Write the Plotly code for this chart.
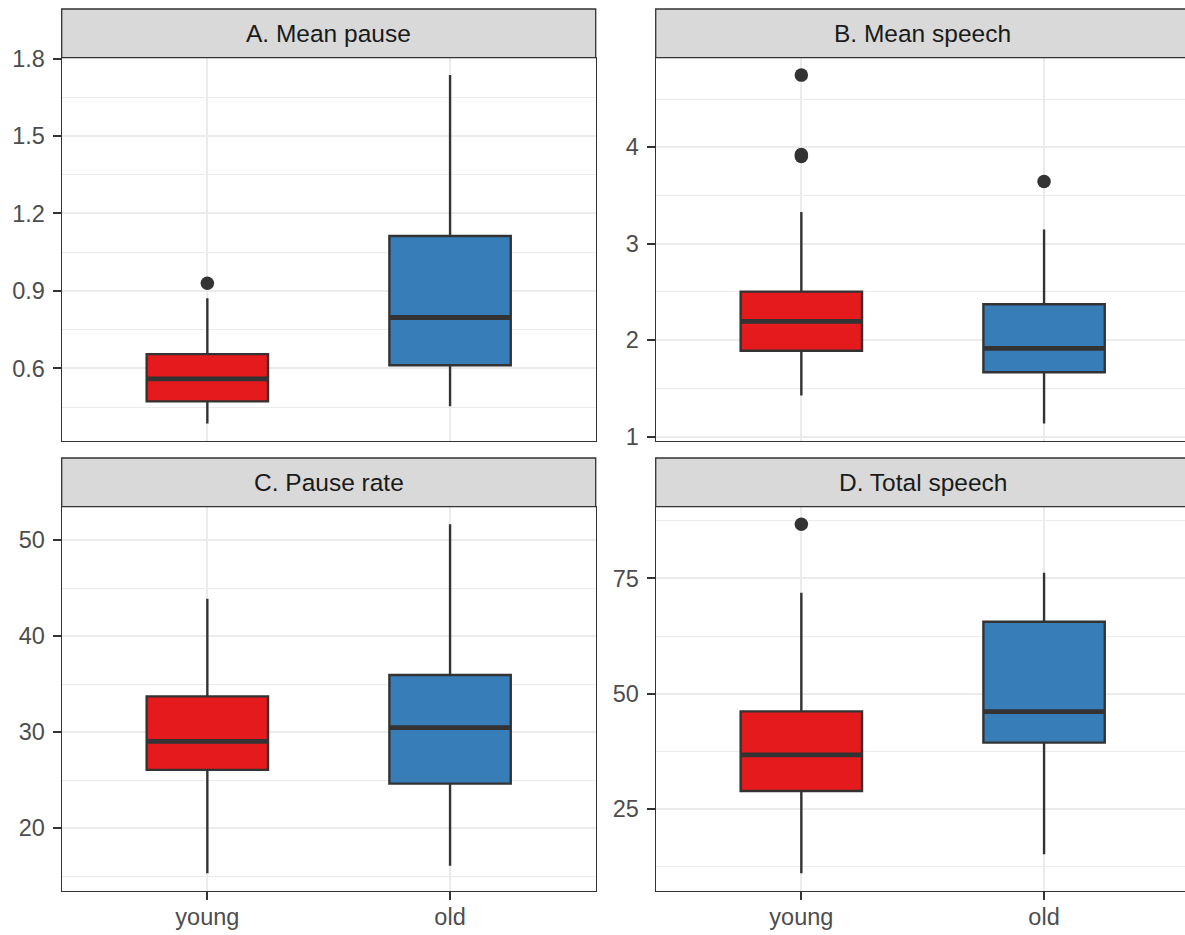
import plotly.graph_objects as go

W, H = 1185, 935

groups = ["young", "old"]
panel_titles = ["A. Mean pause", "B. Mean speech", "C. Pause rate", "D. Total speech"]

# box statistics per panel: [young, old]
q1 = [[0.472, 0.612], [1.890, 1.666], [26.07, 24.64], [28.90, 39.38]]
median = [[0.559, 0.797], [2.193, 1.914], [29.05, 30.47], [36.71, 46.10]]
q3 = [[0.655, 1.113], [2.503, 2.372], [33.73, 35.95], [46.17, 65.61]]
lowerfence = [[0.386, 0.453], [1.424, 1.134], [15.31, 16.08], [11.05, 15.17]]
upperfence = [[0.872, 1.736], [3.328, 3.148], [43.9, 51.66], [71.89, 76.23]]
outliers = [[[0.930], []], [[4.748, 3.925, 3.905], [3.645]], [[], []], [[86.78], []]]

major_ticks = [[0.6, 0.9, 1.2, 1.5, 1.8], [1, 2, 3, 4], [20, 30, 40, 50], [25, 50, 75]]
tick_text = [["0.6", "0.9", "1.2", "1.5", "1.8"], ["1", "2", "3", "4"],
             ["20", "30", "40", "50"], ["25", "50", "75"]]
minor_ticks = [[0.45, 0.75, 1.05, 1.35, 1.65], [1.5, 2.5, 3.5, 4.5],
               [15, 25, 35, 45], [12.5, 37.5, 62.5, 87.5]]

colors = ["#E41A1C", "#377EB8"]
dark = "#333333"
box_w = 0.5
FONT = "Liberation Sans, Arial, sans-serif"

# panel geometry in pixels
col_x = [(61.7, 595.7), (655.7, 1189.7)]
row_y = [(57.7, 441.0), (506.7, 890.7)]
strip_h = 48.7

fig = go.Figure()
layout = {}
for p in range(4):
    r, c = divmod(p, 2)
    ax = "" if p == 0 else str(p + 1)
    xa, ya = "x" + ax, "y" + ax
    x0p, x1p = col_x[c]
    x1clip = min(x1p, W)
    y0p, y1p = row_y[r]
    xdom = [x0p / W, x1clip / W]
    ydom = [1 - y1p / H, 1 - y0p / H]
    unit = (x1p - x0p) / 2.2
    xr = [-0.6, -0.6 + (x1clip - x0p) / unit]

    for g in range(2):
        fig.add_trace(go.Box(
            x=[g], q1=[q1[p][g]], median=[median[p][g]], q3=[q3[p][g]],
            lowerfence=[lowerfence[p][g]], upperfence=[upperfence[p][g]],
            width=box_w, whiskerwidth=0, boxpoints=False,
            fillcolor=colors[g], line=dict(color=dark, width=2.4),
            xaxis=xa, yaxis=ya, showlegend=False, name=groups[g]))
        fig.add_trace(go.Scatter(
            x=[g - box_w / 2, g + box_w / 2], y=[median[p][g]] * 2,
            mode="lines", line=dict(color=dark, width=4.8),
            xaxis=xa, yaxis=ya, showlegend=False, hoverinfo="skip"))
        if outliers[p][g]:
            fig.add_trace(go.Scatter(
                x=[g] * len(outliers[p][g]), y=outliers[p][g], mode="markers",
                marker=dict(color=dark, size=13.5),
                xaxis=xa, yaxis=ya, showlegend=False))

    vals = lowerfence[p] + upperfence[p] + [v for o in outliers[p] for v in o]
    lo, hi = min(vals), max(vals)
    pad = 0.05 * (hi - lo)

    bottom = (r == 1)
    layout["xaxis" + ax] = dict(
        domain=xdom, range=xr, anchor=ya, tickmode="array", tickvals=[0, 1],
        ticktext=groups, showticklabels=bottom, ticks="outside" if bottom else "",
        ticklen=8, tickwidth=2, tickcolor=dark, automargin=False,
        ticklabelstandoff=-3,
        showgrid=True, gridcolor="#EBEBEB", gridwidth=2, zeroline=False,
        showline=True, linecolor=dark, linewidth=1.3, mirror=True,
        tickfont=dict(family=FONT, size=23.5, color="#4D4D4D"))
    layout["yaxis" + ax] = dict(
        domain=ydom, range=[lo - pad, hi + pad], anchor=xa,
        tickmode="array", tickvals=major_ticks[p], ticktext=tick_text[p],
        ticks="outside", ticklen=8, tickwidth=2, tickcolor=dark, automargin=False,
        ticklabelstandoff=3,
        showgrid=True, gridcolor="#EBEBEB", gridwidth=2, zeroline=False,
        minor=dict(tickmode="array", tickvals=minor_ticks[p], showgrid=True,
                   gridcolor="#EBEBEB", gridwidth=1, ticks=""),
        showline=True, linecolor=dark, linewidth=1.3, mirror=(c == 0),
        tickfont=dict(family=FONT, size=23.5, color="#4D4D4D"))

shapes, annotations = [], []
for p in range(4):
    r, c = divmod(p, 2)
    x0p, x1p = col_x[c]
    x1clip = min(x1p, W + 2)
    y0p, _ = row_y[r]
    shapes.append(dict(type="rect", xref="paper", yref="paper",
                       x0=x0p / W, x1=x1clip / W,
                       y0=1 - y0p / H, y1=1 - (y0p - strip_h) / H,
                       fillcolor="#D9D9D9", line=dict(color=dark, width=1.3),
                       layer="above"))
    annotations.append(dict(text=panel_titles[p], xref="paper", yref="paper",
                            x=(x0p + x1p) / 2 / W, y=1 - (y0p - strip_h / 2) / H,
                            showarrow=False, xanchor="center", yanchor="middle",
                            font=dict(family=FONT, size=24.5, color="#1A1A1A")))

fig.update_layout(template="none", width=W, height=H,
                  margin=dict(l=0, r=0, t=0, b=0, pad=0, autoexpand=False),
                  paper_bgcolor="white", plot_bgcolor="white",
                  shapes=shapes, annotations=annotations, **layout)

fig.write_html("out.html", config={"displayModeBar": False},
               post_script="document.body.style.margin='0';"
                           "document.body.style.overflow='hidden';")
